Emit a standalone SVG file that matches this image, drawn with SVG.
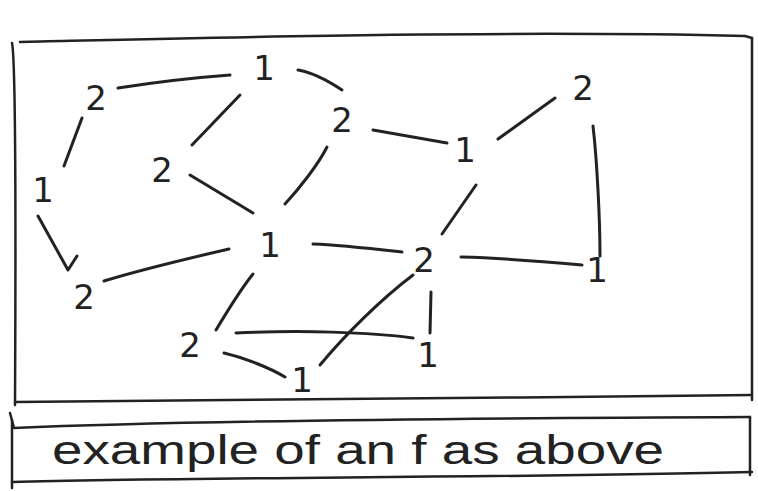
<svg xmlns="http://www.w3.org/2000/svg" width="758" height="491" viewBox="0 0 758 491">
<style>
.frame{fill:none;stroke:#222;stroke-width:2.5;stroke-linecap:round;stroke-linejoin:round}
.edge{fill:none;stroke:#222;stroke-width:3;stroke-linecap:round;stroke-linejoin:round}
.lbl{font-family:"DejaVu Sans",sans-serif;font-size:34px;fill:#222;text-anchor:middle;dominant-baseline:central}
.cap{font-family:"Liberation Sans",sans-serif;font-size:40px;fill:#222}
</style>
<rect width="758" height="491" fill="#fff"/>
<g id="frame">
<path class="frame" d="M20,42 C200,38 500,30 745,36 L752,38"/>
<path class="frame" d="M12,43 C16,60 16,200 15,405"/>
<path class="frame" d="M752,38 L752,400"/>
<path class="frame" d="M15,402 C200,400 500,398 752,395"/>
<path class="frame" d="M10,413 L14,428 C200,420 500,418 750,417"/>
<path class="frame" d="M12,420 L12,488"/>
<path class="frame" d="M12,482 C200,477 500,478 752,472"/>
<path class="frame" d="M750,417 L750,475"/>
</g>
<g id="connectors">
<path class="edge" d="M118,88 C150,83 190,78 230,75"/>
<path class="edge" d="M298,70 C315,73 330,82 342,90"/>
<path class="edge" d="M240,95 L192,145"/>
<path class="edge" d="M82,118 L64,166"/>
<path class="edge" d="M38,216 L68,270 L77,256"/>
<path class="edge" d="M190,175 L253,213"/>
<path class="edge" d="M327,147 C318,165 298,190 285,204"/>
<path class="edge" d="M373,130 L447,143"/>
<path class="edge" d="M498,139 L555,98"/>
<path class="edge" d="M593,126 C597,160 600,220 600,256"/>
<path class="edge" d="M476,185 L442,234"/>
<path class="edge" d="M313,244 C340,245 375,249 402,252"/>
<path class="edge" d="M104,281 C140,270 190,258 229,249"/>
<path class="edge" d="M461,257 C500,258 550,262 582,265"/>
<path class="edge" d="M253,274 C240,290 225,315 216,330"/>
<path class="edge" d="M413,275 C380,300 345,335 320,365"/>
<path class="edge" d="M236,333 C300,330 370,332 413,338"/>
<path class="edge" d="M431,292 L430,333"/>
<path class="edge" d="M224,353 C245,358 270,368 285,377"/>
</g>
<g id="n1"><text class="lbl" x="96" y="98">2</text></g>
<g id="n2"><text class="lbl" x="264" y="68">1</text></g>
<g id="n3"><text class="lbl" x="162" y="170">2</text></g>
<g id="n4"><text class="lbl" x="43" y="190">1</text></g>
<g id="n5"><text class="lbl" x="342" y="120">2</text></g>
<g id="n6"><text class="lbl" x="465" y="150">1</text></g>
<g id="n7"><text class="lbl" x="583" y="88">2</text></g>
<g id="n8"><text class="lbl" x="270" y="245">1</text></g>
<g id="n9"><text class="lbl" x="424" y="260">2</text></g>
<g id="n10"><text class="lbl" x="597" y="270">1</text></g>
<g id="n11"><text class="lbl" x="84" y="297">2</text></g>
<g id="n12"><text class="lbl" x="190" y="345">2</text></g>
<g id="n13"><text class="lbl" x="428" y="355">1</text></g>
<g id="n14"><text class="lbl" x="302" y="380">1</text></g>
<g id="caption"><text class="cap" x="52" y="464" textLength="612" lengthAdjust="spacingAndGlyphs">example of an f as above</text></g>
</svg>
